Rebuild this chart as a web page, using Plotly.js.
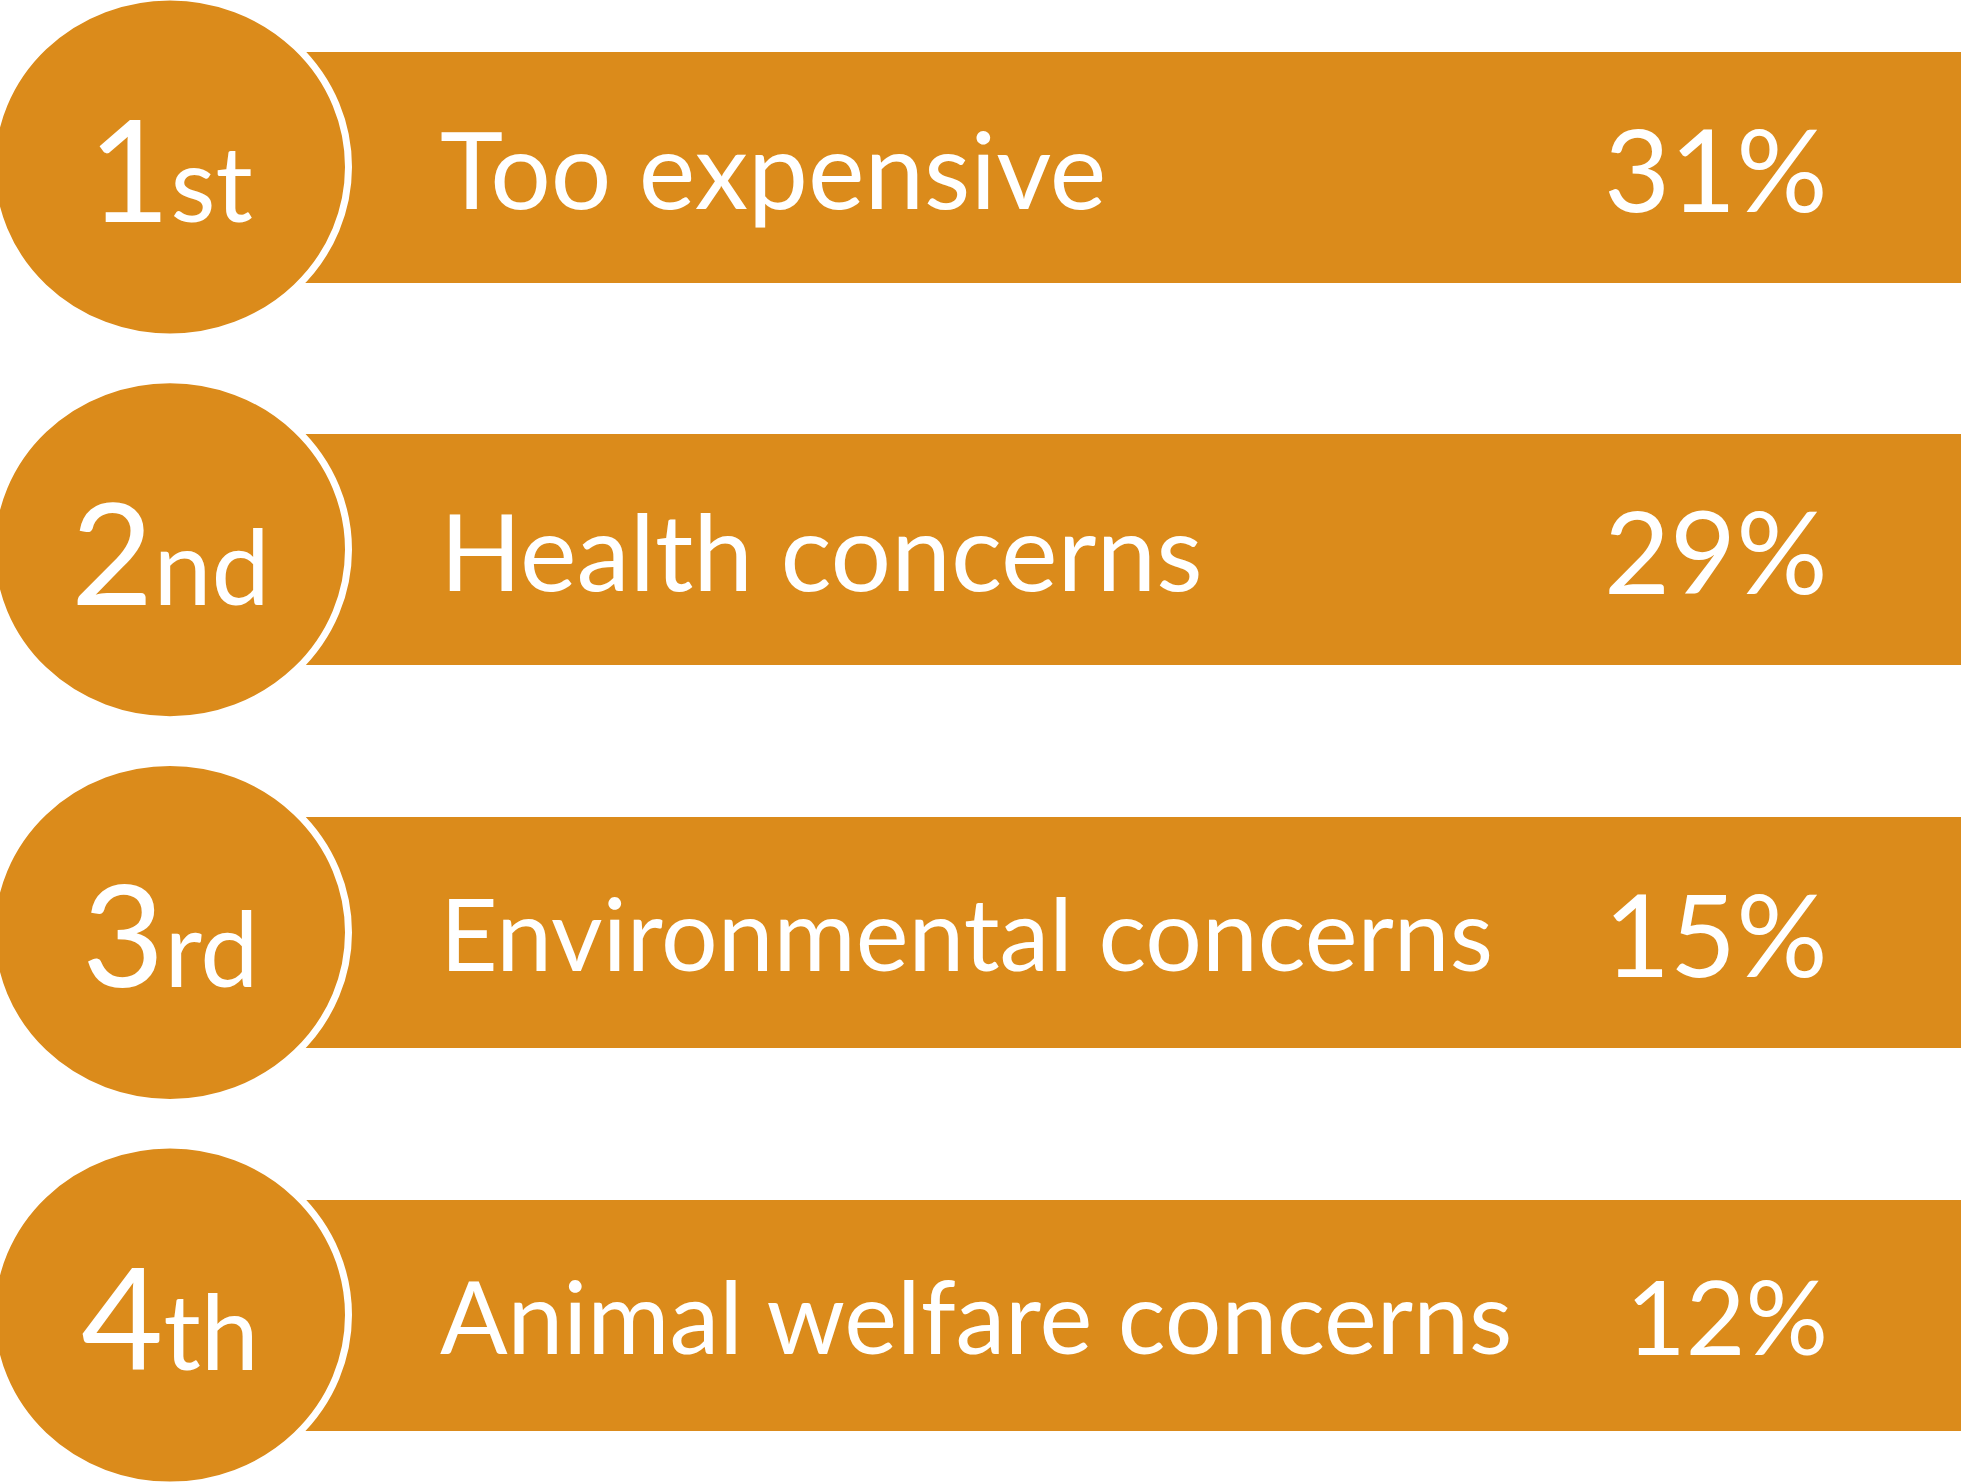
<!DOCTYPE html>
<html>
<head>
<meta charset="utf-8">
<script src="https://cdn.plot.ly/plotly-3.0.1.min.js"></script>
<style>
  html, body { margin: 0; padding: 0; background: #ffffff; }
  #chart { width: 1962px; height: 1484px; }
</style>
</head>
<body>
<div id="chart"></div>
<script>
// ---- data ----
const rankNumbers = ["1", "2", "3", "4"];
const rankSuffixes = ["st", "nd", "rd", "th"];
const categories = ["Too expensive", "Health concerns", "Environmental concerns", "Animal welfare concerns"];
const percentValues = [31, 29, 15, 12];

// ---- style / layout ----
const ORANGE = "#DB8B1B";
const FONT = "Lato, 'Open Sans', sans-serif";
const labelFontSizes = [107, 107, 100, 100];
const percentFontSizes = [114, 114, 114, 103];
const W = 1962, H = 1484;
const rowPitch = 382.7;        // px per row
const firstRowCenter = 167;    // px
const barBase = 300, barEnd = 1961;
const barThickPx = 231;
const circleCx = 170, circleRx = 178.5, circleRy = 170;

const idx = categories.map((_, i) => i);
const y0 = -firstRowCenter / rowPitch;
const y1 = y0 + H / rowPitch;

const barTrace = {
  type: "bar",
  orientation: "h",
  y: idx,
  x: idx.map(() => barEnd - barBase),
  base: barBase,
  width: barThickPx / rowPitch,
  marker: { color: ORANGE, line: { width: 0 } },
  hoverinfo: "skip",
  showlegend: false
};

const shapes = idx.map(i => ({
  type: "circle",
  xref: "x", yref: "y",
  x0: circleCx - circleRx, x1: circleCx + circleRx,
  y0: i - circleRy / rowPitch, y1: i + circleRy / rowPitch,
  fillcolor: ORANGE,
  line: { color: "#ffffff", width: 7 },
  layer: "above"
}));

const annotations = [];
idx.forEach(i => {
  annotations.push({
    x: circleCx, y: i, xref: "x", yref: "y",
    xanchor: "center", yanchor: "middle",
    text: rankNumbers[i] + '<span style="font-size:104px">' + rankSuffixes[i] + '</span>',
    showarrow: false,
    font: { family: FONT, size: 142, color: "#ffffff" }
  });
  annotations.push({
    x: 438, y: i, xref: "x", yref: "y",
    xanchor: "left", yanchor: "middle",
    text: categories[i],
    showarrow: false,
    font: { family: FONT, size: labelFontSizes[i], color: "#ffffff" }
  });
  annotations.push({
    x: 1830, y: i, xref: "x", yref: "y",
    xanchor: "right", yanchor: "middle",
    text: percentValues[i] + "%",
    showarrow: false,
    font: { family: FONT, size: percentFontSizes[i], color: "#ffffff" }
  });
});

const layout = {
  width: W, height: H,
  margin: { l: 0, r: 0, t: 0, b: 0, pad: 0 },
  paper_bgcolor: "#ffffff",
  plot_bgcolor: "#ffffff",
  xaxis: { range: [0, W], visible: false, fixedrange: true },
  yaxis: { range: [y1, y0], visible: false, fixedrange: true },
  shapes: shapes,
  annotations: annotations,
  showlegend: false,
  bargap: 0
};

Plotly.newPlot("chart", [barTrace], layout, { displayModeBar: false, staticPlot: true });
</script>
</body>
</html>
